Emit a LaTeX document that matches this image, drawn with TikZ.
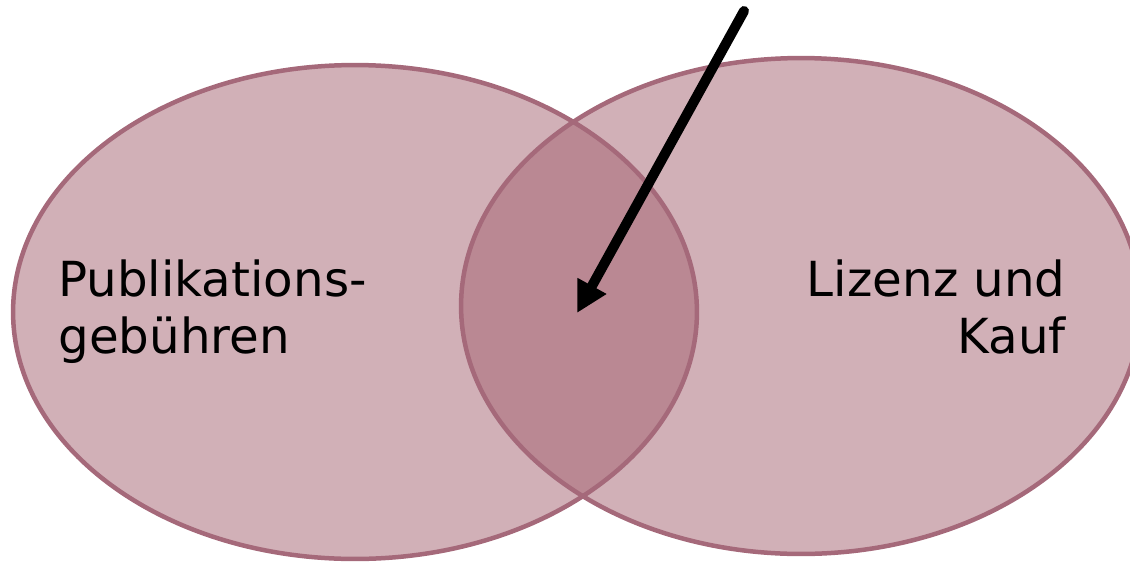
\documentclass[tikz,border=0pt]{standalone}
\usepackage{fontspec}
\setmainfont{DejaVu Sans}
\usetikzlibrary{shapes.geometric,arrows.meta}
\definecolor{vfill}{HTML}{A3616F}
\definecolor{vstroke}{HTML}{A5697A}
\tikzset{
  setfill/.style={ellipse, inner sep=0pt, outer sep=0pt, fill=vfill, fill opacity=0.5},
  setline/.style={ellipse, inner sep=0pt, outer sep=0pt, draw=vstroke, line width=0.09cm},
  label/.style={inner sep=0pt, font=\fontsize{27.5pt}{33pt}\selectfont, text=black},
  pointer/.style={line width=0.2cm, line cap=round, -{Triangle[length=0.62cm, width=0.62cm]}}
}
\begin{document}
\begin{tikzpicture}[x=0.02cm, y=-0.02cm]
\useasboundingbox (0,0) rectangle (1130,562);
\clip (0,0) rectangle (1130,562);
\node[setfill, minimum width=13.68cm, minimum height=9.88cm] (L) at (355,312) {};
\node[setfill, minimum width=13.6cm, minimum height=9.92cm] (R) at (801,306) {};
\node[setline, minimum width=13.68cm, minimum height=9.88cm] (Lo) at (355,312) {};
\node[setline, minimum width=13.6cm, minimum height=9.92cm] (Ro) at (801,306) {};
\node[label, anchor=base west] (p1) at (58,296) {Publikations-};
\node[label, anchor=base west] (p2) at (58,353) {gebühren};
\node[label, anchor=base east] (l1) at (1066,296) {Lizenz und};
\node[label, anchor=base east] (l2) at (1066,353) {Kauf};
\coordinate (start) at (744,11);
\coordinate (tip) at (577,313);
\draw[pointer] (start) -- (tip);
\end{tikzpicture}
\end{document}
